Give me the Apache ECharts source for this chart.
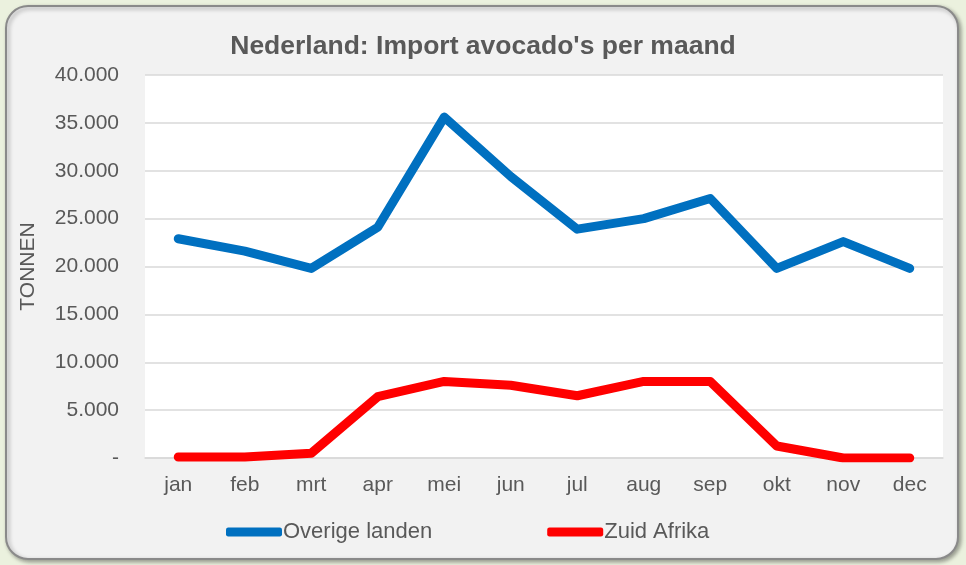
<!DOCTYPE html>
<html>
<head>
<meta charset="utf-8">
<script src="https://cdn.jsdelivr.net/npm/echarts@6/dist/echarts.min.js"></script>
<style>
  html, body { margin: 0; padding: 0; background: #EBF1DE; }
  #chart { width: 966px; height: 565px; }
</style>
</head>
<body>
<div id="chart"></div>
<script>
// maanden
var months = ['jan', 'feb', 'mrt', 'apr', 'mei', 'jun', 'jul', 'aug', 'sep', 'okt', 'nov', 'dec'];
var overigeLanden = [22900, 21600, 19800, 24100, 35600, 29400, 23900, 25000, 27100, 19800, 22600, 19800];
var zuidAfrika = [100, 100, 500, 6400, 8000, 7600, 6500, 8000, 8000, 1250, 0, 0];

var myChart = echarts.init(document.getElementById('chart'));

function fmt(v) {
    if (v === 0) return '-';
    return String(v).replace(/\B(?=(\d{3})+(?!\d))/g, '.');
}

var option = {
    backgroundColor: 'transparent',
    textStyle: { fontFamily: 'Liberation Sans, Arial, sans-serif' },
    graphic: [{
        type: 'rect',
        z: -10,
        shape: { x: 6, y: 6, width: 952, height: 553, r: 22 },
        style: {
            fill: '#F2F2F2',
            stroke: '#8A8A8A',
            lineWidth: 2,
            shadowColor: 'rgba(0,0,0,0.35)',
            shadowBlur: 4,
            shadowOffsetX: 2,
            shadowOffsetY: 2
        }
    }],
    title: {
        text: "Nederland: Import avocado's per maand",
        left: 'center',
        top: 28,
        textStyle: { color: '#595959', fontSize: 26.5, fontWeight: 'bold' }
    },
    legend: {
        top: 516,
        left: 221,
        itemGap: 115,
        itemWidth: 56,
        itemHeight: 9,
        icon: 'roundRect',
        textStyle: { color: '#595959', fontSize: 22, padding: [0, 0, 0, -4] },
        data: ['Overige landen', 'Zuid Afrika']
    },
    grid: { left: 145, right: 23, top: 75, bottom: 107, backgroundColor: '#FFFFFF', show: true, borderWidth: 0 },
    xAxis: {
        type: 'category',
        data: months,
        boundaryGap: true,
        axisLine: { lineStyle: { color: '#D9D9D9', width: 1.5 } },
        axisTick: { show: false },
        axisLabel: { color: '#595959', fontSize: 21, margin: 17 }
    },
    yAxis: {
        type: 'value',
        min: 0,
        max: 40000,
        interval: 5000,
        name: 'TONNEN',
        nameLocation: 'middle',
        nameGap: 106,
        nameTextStyle: { color: '#595959', fontSize: 21 },
        axisLine: { show: false },
        axisTick: { show: false },
        splitLine: { lineStyle: { color: '#D9D9D9', width: 1.5 } },
        axisLabel: { color: '#595959', fontSize: 21, margin: 26, formatter: fmt }
    },
    series: [{
        name: 'Overige landen',
        type: 'line',
        data: overigeLanden,
        symbol: 'none',
        color: '#0070C0',
        lineStyle: { width: 9, color: '#0070C0', cap: 'round', join: 'round' }
    }, {
        name: 'Zuid Afrika',
        type: 'line',
        data: zuidAfrika,
        symbol: 'none',
        color: '#FF0000',
        lineStyle: { width: 9, color: '#FF0000', cap: 'round', join: 'round' }
    }]
};

myChart.setOption(option);
</script>
</body>
</html>
